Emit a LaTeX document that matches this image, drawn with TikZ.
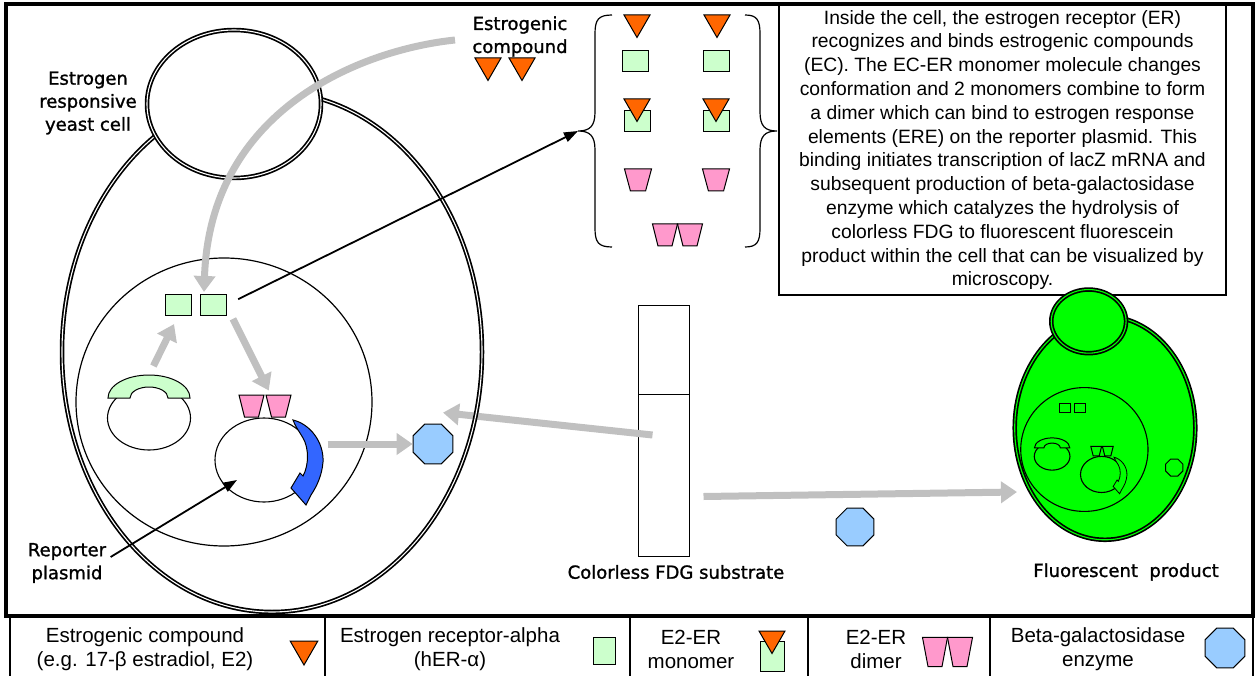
\documentclass[tikz,border=0pt]{standalone}
\usepackage{fontspec}
\setmainfont{Liberation Sans}
\newfontfamily\handfont{DejaVu Sans}[FakeBold=1.3]
\usetikzlibrary{arrows.meta,shapes.geometric}

\definecolor{ecorange}{HTML}{FF6600}
\definecolor{ergreen}{HTML}{CCFFCC}
\definecolor{erpink}{HTML}{FF99CC}
\definecolor{enzblue}{HTML}{99CCFF}
\definecolor{curlblue}{HTML}{3366FF}
\definecolor{cellgreen}{HTML}{00FF00}
\definecolor{flowgray}{HTML}{C0C0C0}

\tikzset{
  flow/.style={draw=flowgray, line width=7pt, -{Triangle[length=16pt,width=21pt]}},
  pointer/.style={line width=1.8pt, -{Triangle[length=14pt,width=10pt]}},
  membrane/.style={line width=1.7pt, double=white, double distance=1.1pt},
  plasmid/.style={draw, ellipse, line width=1.1pt, inner sep=0pt},
  erbox/.style={draw, line width=1pt, fill=ergreen, minimum width=26pt, minimum height=21pt, inner sep=0pt},
  ectri/.style={draw, line width=1pt, fill=ecorange, regular polygon, regular polygon sides=3, shape border rotate=180, minimum size=30pt, inner sep=0pt},
  enzyme/.style={draw, line width=1pt, fill=enzblue, regular polygon, regular polygon sides=8, minimum size=43pt, inner sep=0pt},
  hand/.style={font=\handfont\fontsize{18}{23}\selectfont, align=center},
  legendtext/.style={font=\fontsize{20.5}{24}\selectfont, align=center},
  % one half of the receptor dimer
  pics/ertrap/.style={code={\draw[line width=1pt, fill=#1] (-12.5,-11) -- (12.5,-11) -- (7,11) -- (-7,11) -- cycle;}},
  pics/ertrap/.default=erpink,
}

\begin{document}
\begin{tikzpicture}[x=1pt,y=-1pt]
\useasboundingbox (0,0) rectangle (1257,676);

% frame
\draw[line width=4pt] (6,4) rectangle (1253,616);

% substrate column
\node[draw, line width=1pt, minimum width=51pt, minimum height=251pt, inner sep=0pt] (fdg) at (663.5,430.5) {};
\draw[line width=1pt] (638,394) -- (689,394);
\node[hand] (fdglbl) at (676,572) {Colorless FDG substrate};

\node[enzyme] (enz1) at (433,444) {};
\draw[flow] ([shift={(15pt,-4.5pt)}]fdg.west) -- ([shift={(10pt,11pt)}]enz1.north);

% yeast cell
\draw[membrane] (272,352) ellipse [x radius=210, y radius=260];
\draw[membrane, fill=white] (234,104) ellipse [x radius=87, y radius=74];
\draw[line width=1.2pt] (224,402) ellipse [x radius=148, y radius=144];

% receptor plasmid
\node[plasmid, minimum width=83pt, minimum height=64pt] (lplasmid) at (149,418) {};
\draw[line width=1pt, fill=ergreen] (108,398) arc [start angle=180, end angle=360, x radius=41, y radius=23]
  -- (168,398) arc [start angle=0, end angle=-180, x radius=19, y radius=11] -- cycle;
\coordinate (archtop) at (149,375);

% reporter plasmid
\node[plasmid, minimum width=98pt, minimum height=84pt] (rplasmid) at (264,460) {};
\pic at (251.5,406) {ertrap};
\pic at (278.5,406) {ertrap};
\coordinate (dimerin) at (271,395);
\draw[line width=1pt, fill=curlblue] (293,420) .. controls (310,424) and (324,442) .. (323,462)
  .. controls (322,475) and (317,486) .. (311,495) -- (306,505) -- (291,488) -- (300,473) -- (303,476)
  .. controls (309,465) and (309,448) .. (303,438) .. controls (299,431) and (295,426) .. (293,420) -- cycle;

\node[erbox] (er1) at (178,305) {};
\node[erbox] (er2) at (213,305) {};

\draw[flow, shorten <=10pt, shorten >=9pt] (archtop) -- (er1.south);
\draw[flow, shorten <=1pt, shorten >=5pt] ([xshift=6pt,yshift=-2pt]er2.south east) -- (dimerin);
\draw[flow, shorten <=14pt] (enz1 -| rplasmid.east) -- (enz1.west);

% compound entering the cell
\node[hand] (ecname) at (520,36.5) {Estrogenic\\compound};
\node[ectri] (ec1) at (488,65.5) {};
\node[ectri] (ec2) at (522,65.5) {};
\coordinate (ecstart) at (455,40);
\draw[flow] (ecstart) .. controls (360,50) and (210,110) .. ([xshift=-9pt,yshift=2pt]er2.north);

% binding steps
\coordinate (bracetip) at (578,131);
\draw[pointer, shorten <=13pt] (er2.east) -- (bracetip);
\draw[line width=1.2pt] (612,15) .. controls (598,15) and (595,20) .. (595,34) -- (595,112)
  .. controls (595,126) and (590,131) .. (578,131) .. controls (590,131) and (595,136) .. (595,150)
  -- (595,228) .. controls (595,242) and (598,247) .. (612,247);
\draw[line width=1.2pt] (745,15) .. controls (757,15) and (760,20) .. (760,34) -- (760,112)
  .. controls (760,126) and (765,131) .. (777,131) .. controls (765,131) and (760,136) .. (760,150)
  -- (760,228) .. controls (760,242) and (757,247) .. (745,247);

\node[ectri] (s1a) at (637,22.5) {};
\node[ectri] (s1b) at (717,22.5) {};
\node[erbox] (s2a) at (635,61) {};
\node[erbox] (s2b) at (716,61) {};
\node[erbox] (s3a) at (637,121) {};
\node[erbox] (s3b) at (716,121) {};
\node[ectri] (s3c) at (637,106.5) {};
\node[ectri] (s3d) at (716,106.5) {};
\pic[xscale=1.08] at (638,180) {ertrap};
\pic[xscale=1.08] at (716,180) {ertrap};
\pic at (665,235) {ertrap};
\pic at (690,235) {ertrap};

% labels
\node[hand] (celllbl) at (88,103) {Estrogen\\responsive\\yeast cell};
\node[hand] (replbl) at (67,563) {Reporter\\plasmid};
\coordinate (plasmidin) at (237,480);
\draw[pointer] ([xshift=1pt,yshift=6pt]replbl.east) -- (plasmidin);

% explanation
\node[draw, line width=1.2pt, minimum width=447pt, minimum height=290pt, align=center,
  font=\fontsize{19.3}{23.8}\selectfont] (infobox) at (1002.5,150) {Inside the cell, the estrogen receptor (ER)\\
recognizes and binds estrogenic compounds\\
(EC). The EC-ER monomer molecule changes\\
conformation and 2 monomers combine to form\\
a dimer which can bind to estrogen response\\
elements (ERE) on the reporter plasmid. This\\
binding initiates transcription of lacZ mRNA and\\
subsequent production of beta-galactosidase\\
enzyme which catalyzes the hydrolysis of\\
colorless FDG to fluorescent fluorescein\\
product within the cell that can be visualized by\\
microscopy.};

% substrate to the glowing cell
\node[enzyme, minimum size=41pt] (enz2) at (855,527) {};
\coordinate (gcellin) at (1017,492);
\draw[flow] ([shift={(14pt,-66pt)}]fdg.east) -- (gcellin);

\begin{scope}[shift={(1105,428)}, scale=0.43, shift={(-272,-352)}]
  \draw[membrane, double=cellgreen, fill=cellgreen] (272,352) ellipse [x radius=210, y radius=260];
  \draw[membrane, double=cellgreen, fill=cellgreen] (234,104) ellipse [x radius=87, y radius=74];
  \draw[line width=1.1pt] (224,402) ellipse [x radius=148, y radius=144];
  \node[plasmid, transform shape, minimum width=83pt, minimum height=64pt] (glplasmid) at (149,418) {};
  \draw[line width=1pt, fill=cellgreen] (108,398) arc [start angle=180, end angle=360, x radius=41, y radius=23]
    -- (168,398) arc [start angle=0, end angle=-180, x radius=19, y radius=11] -- cycle;
  \node[plasmid, transform shape, minimum width=98pt, minimum height=84pt] (grplasmid) at (264,460) {};
  \pic[transform shape] at (251.5,406) {ertrap=none};
  \pic[transform shape] at (278.5,406) {ertrap=none};
  \draw[line width=0.8pt, fill=cellgreen] (293,420) .. controls (310,424) and (324,442) .. (323,462)
    .. controls (322,475) and (317,486) .. (311,495) -- (306,505) -- (291,488) -- (300,473) -- (303,476)
    .. controls (309,465) and (309,448) .. (303,438) .. controls (299,431) and (295,426) .. (293,420) -- cycle;
  \node[erbox, fill=none, transform shape] (ger1) at (178,305) {};
  \node[erbox, fill=none, transform shape] (ger2) at (213,305) {};
  \node[enzyme, fill=none, transform shape] (genz) at (433,444) {};
\end{scope}
\node[hand] (fluolbl) at (1126,572) {Fluorescent\ \ product};

% legend
\foreach \x in {10,325,630,808,990,1253}
  \draw[line width=1.5pt] (\x,618) -- (\x,676);
\node[legendtext] (lgec) at (145,649) {Estrogenic compound\\(e.g. 17-β estradiol, E2)};
\node[ectri, minimum size=32pt] (lgtri) at (304,649) {};
\node[legendtext] (lger) at (450,649) {Estrogen receptor-alpha\\(hER-α)};
\node[erbox, minimum width=22pt, minimum height=27pt] (lgbox) at (604,651) {};
\node[legendtext] (lgmono) at (691,649) {E2-ER\\monomer};
\node[erbox, minimum width=24pt, minimum height=30pt] (lgmbox) at (772,656) {};
\node[ectri] (lgmtri) at (772,638.5) {};
\node[legendtext] (lgdim) at (876,649) {E2-ER\\dimer};
\pic[yscale=1.32] at (935,652) {ertrap};
\pic[yscale=1.32] at (960,652) {ertrap};
\node[legendtext] (lgenz) at (1098,649) {Beta-galactosidase\\enzyme};
\node[enzyme] (lgenzyme) at (1225,648) {};

\end{tikzpicture}
\end{document}
